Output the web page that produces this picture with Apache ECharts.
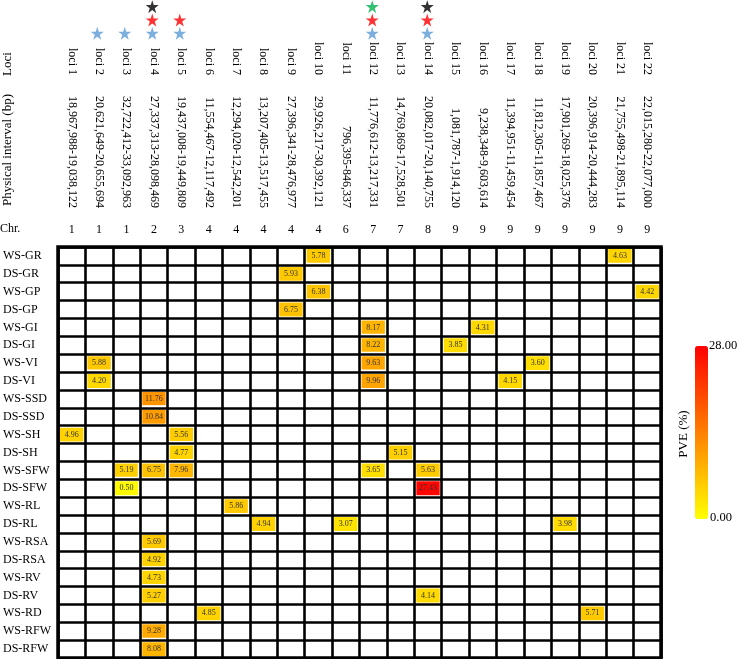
<!DOCTYPE html>
<html><head><meta charset="utf-8">
<script src="https://cdn.jsdelivr.net/npm/echarts@6/dist/echarts.min.js"></script>
<style>html,body{margin:0;padding:0;background:#fff}#c{width:738px;height:659px}</style>
</head><body><div id="c"></div>
<script>
const loci = ['loci 1','loci 2','loci 3','loci 4','loci 5','loci 6','loci 7','loci 8','loci 9','loci 10','loci 11','loci 12','loci 13','loci 14','loci 15','loci 16','loci 17','loci 18','loci 19','loci 20','loci 21','loci 22'];
const intervals = ['18,967,988-19,038,122','20,621,649-20,655,694','32,722,412-33,092,963','27,337,313-28,098,469','19,437,008-19,449,809','11,554,467-12,117,492','12,294,020-12,542,201','13,207,405-13,517,455','27,396,341-28,476,977','29,926,217-30,392,121','796,395-846,337','11,776,612-13,217,331','14,769,869-17,528,501','20,082,017-20,140,755','1,081,787-1,914,120','9,238,348-9,603,614','11,394,951-11,459,454','11,812,305-11,857,467','17,901,269-18,025,376','20,396,914-20,444,283','21,755,498-21,895,114','22,015,280-22,077,000'];
const chr = ['1','1','1','2','3','4','4','4','4','4','6','7','7','8','9','9','9','9','9','9','9','9'];
const traits = ['WS-GR','DS-GR','WS-GP','DS-GP','WS-GI','DS-GI','WS-VI','DS-VI','WS-SSD','DS-SSD','WS-SH','DS-SH','WS-SFW','DS-SFW','WS-RL','DS-RL','WS-RSA','DS-RSA','WS-RV','DS-RV','WS-RD','WS-RFW','DS-RFW'];
// [trait, locus, PVE %]
const pve = [
 ['WS-GR','loci 10',5.78],['WS-GR','loci 21',4.63],
 ['DS-GR','loci 9',5.93],
 ['WS-GP','loci 10',6.38],['WS-GP','loci 22',4.42],
 ['DS-GP','loci 9',6.75],
 ['WS-GI','loci 12',8.17],['WS-GI','loci 16',4.31],
 ['DS-GI','loci 12',8.22],['DS-GI','loci 15',3.85],
 ['WS-VI','loci 2',5.88],['WS-VI','loci 12',9.63],['WS-VI','loci 18',3.60],
 ['DS-VI','loci 2',4.20],['DS-VI','loci 12',9.96],['DS-VI','loci 17',4.15],
 ['WS-SSD','loci 4',11.76],
 ['DS-SSD','loci 4',10.84],
 ['WS-SH','loci 1',4.96],['WS-SH','loci 5',5.56],
 ['DS-SH','loci 5',4.77],['DS-SH','loci 13',5.15],
 ['WS-SFW','loci 3',5.19],['WS-SFW','loci 4',6.75],['WS-SFW','loci 5',7.96],['WS-SFW','loci 12',3.65],['WS-SFW','loci 14',5.63],
 ['DS-SFW','loci 3',0.50],['DS-SFW','loci 14',27.43],
 ['WS-RL','loci 7',5.86],
 ['DS-RL','loci 8',4.94],['DS-RL','loci 11',3.07],['DS-RL','loci 19',3.98],
 ['WS-RSA','loci 4',5.69],
 ['DS-RSA','loci 4',4.92],
 ['WS-RV','loci 4',4.73],
 ['DS-RV','loci 4',5.27],['DS-RV','loci 14',4.14],
 ['WS-RD','loci 6',4.85],['WS-RD','loci 20',5.71],
 ['WS-RFW','loci 4',9.28],
 ['DS-RFW','loci 4',8.08]
];
const blueStars = ['loci 2','loci 3','loci 4','loci 5','loci 12','loci 14'];
const redStars = ['loci 4','loci 5','loci 12','loci 14'];
const blackStars = ['loci 4','loci 14'];
const greenStars = ['loci 12'];
const pveMin = 0, pveMax = 28;

const FONT = 'Liberation Serif';
const STAR = 'path://M50,0 L61.2,34.5 L97.6,34.5 L68.2,55.9 L79.4,90.5 L50,69.1 L20.6,90.5 L31.8,55.9 L2.4,34.5 L38.8,34.5 Z';
const G = {left: 56, width: 605, top: 247, height: 411};

const heatData = pve.map(d => [loci.indexOf(d[1]), traits.indexOf(d[0]), d[2]]);
const starSeries = (list, level, color) => ({
  type: 'scatter', xAxisIndex: 3, yAxisIndex: 1, symbol: STAR, symbolSize: 13,
  itemStyle: {color: color}, silent: true,
  data: list.map(l => [loci.indexOf(l), level])
});

const chart = echarts.init(document.getElementById('c'));
chart.setOption({
  animation: false,
  grid: [
    {left: G.left, top: G.top, width: G.width, height: G.height, show: true, z: 5, borderColor: '#000', borderWidth: 3.5, backgroundColor: 'transparent'},
    {left: G.left, top: -1, width: G.width, height: 41}
  ],
  xAxis: [
    {type: 'category', gridIndex: 0, position: 'top', data: chr, z: 5,
     axisLine: {show: false}, axisTick: {show: false},
     axisLabel: {fontFamily: FONT, fontSize: 12, color: '#000', margin: 11, interval: 0},
     splitLine: {show: true, interval: 0, lineStyle: {color: '#000', width: 2.6}}},
    {type: 'category', gridIndex: 0, position: 'top', offset: 28, data: intervals,
     axisLine: {show: false}, axisTick: {show: false},
     axisLabel: {fontFamily: FONT, fontSize: 12, color: '#000', margin: 11, rotate: 90, interval: 0}},
    {type: 'category', gridIndex: 0, position: 'top', offset: 160, data: loci,
     axisLine: {show: false}, axisTick: {show: false},
     axisLabel: {fontFamily: FONT, fontSize: 12, color: '#000', margin: 12, rotate: 90, interval: 0}},
    {type: 'category', gridIndex: 1, data: loci, show: false}
  ],
  yAxis: [
    {type: 'category', gridIndex: 0, inverse: true, data: traits, z: 5,
     axisLine: {show: false}, axisTick: {show: false},
     axisLabel: {fontFamily: FONT, fontSize: 12, color: '#000', align: 'left', margin: 55, interval: 0},
     splitLine: {show: true, interval: 0, lineStyle: {color: '#000', width: 2.6}}},
    {type: 'category', gridIndex: 1, data: ['b','r','t'], show: false}
  ],
  visualMap: {
    type: 'continuous', seriesIndex: 0, min: pveMin, max: pveMax,
    orient: 'vertical', left: 695, top: 346, itemWidth: 13, itemHeight: 173,
    padding: 0, calculable: false, text: null, showLabel: false,
    inRange: {color: ['#FFFF00', '#FF0000']}
  },
  graphic: [
    {type: 'text', left: 0, top: 223, style: {text: 'Chr.', font: '12px "Liberation Serif"', fill: '#000'}},
    {type: 'text', x: 8, y: 64, rotation: Math.PI/2, style: {text: 'Loci', font: '13px "Liberation Serif"', fill: '#000', textAlign: 'center', textVerticalAlign: 'middle'}},
    {type: 'text', x: 8, y: 150, rotation: Math.PI/2, style: {text: 'Physical interval (bp)', font: '13px "Liberation Serif"', fill: '#000', textAlign: 'center', textVerticalAlign: 'middle'}},
    {type: 'text', x: 684, y: 434, rotation: Math.PI/2, style: {text: 'PVE (%)', font: '13px "Liberation Serif"', fill: '#000', textAlign: 'center', textVerticalAlign: 'middle'}},
    {type: 'text', x: 709, y: 346, style: {text: pveMax.toFixed(2), font: '12.5px "Liberation Serif"', fill: '#000', textAlign: 'left', textVerticalAlign: 'middle'}},
    {type: 'text', x: 710, y: 518, style: {text: pveMin.toFixed(2), font: '12.5px "Liberation Serif"', fill: '#000', textAlign: 'left', textVerticalAlign: 'middle'}}
  ],
  series: [
    {type: 'heatmap', xAxisIndex: 0, yAxisIndex: 0, data: heatData,
     itemStyle: {borderColor: '#fff', borderWidth: 4.5},
     label: {show: true, fontFamily: FONT, fontSize: 8, color: '#333',
             formatter: p => p.value[2].toFixed(2)}},
    starSeries(blueStars, 0, '#5B9BD5'),
    starSeries(redStars, 1, '#FF0000'),
    starSeries(blackStars, 2, '#000000'),
    starSeries(greenStars, 2, '#00B050')
  ]
});
</script></body></html>
